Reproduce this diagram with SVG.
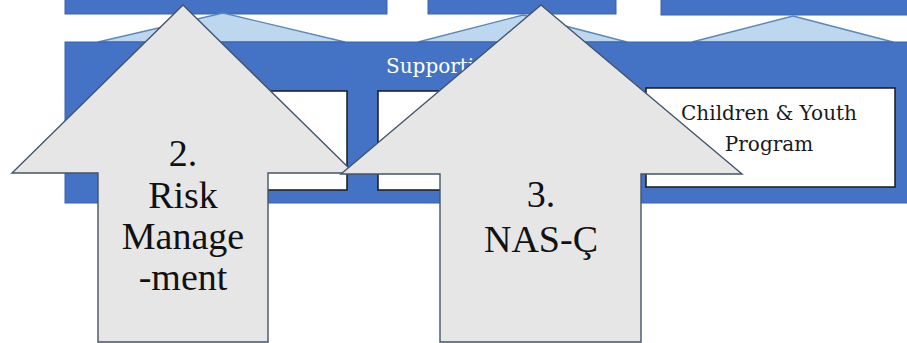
<svg xmlns="http://www.w3.org/2000/svg" width="907" height="343" viewBox="0 0 907 343">
<style>
.bar{fill:#4472C4;stroke:#3A63AD;stroke-width:1}
.tri{fill:#BDD7EE;stroke:#5B88B9;stroke-width:1.3}
.box{fill:#FFFFFF;stroke:#1A1A1A;stroke-width:1.5}
.arrow{fill:#E6E6E6;stroke:#44546A;stroke-width:1.4;stroke-linejoin:miter}
.lbl{font-family:"DejaVu Serif","Liberation Serif",serif;font-size:20px;text-anchor:middle;fill:#1A1A1A}
.sup{font-family:"DejaVu Serif","Liberation Serif",serif;font-size:20px;fill:#FFFFFF}
.big{font-family:"Liberation Serif",serif;font-size:38px;text-anchor:middle;fill:#111111}
</style>
<rect width="907" height="343" fill="#FFFFFF"/>
<g id="top-bars">
<rect class="bar" x="65" y="-2" width="322" height="16"/>
<rect class="bar" x="428" y="-2" width="188" height="16"/>
<rect class="bar" x="661" y="-2" width="250" height="17"/>
</g>
<g id="connectors">
<polygon class="tri" points="223,13 345,42 98,42"/>
<polygon class="tri" points="523,15 627,42 418,42"/>
<polygon class="tri" points="793,16 893,42 692,42"/>
</g>
<g id="supporting">
<rect class="bar" x="65" y="42" width="846" height="161"/>
<text class="sup" x="386" y="73">Supporting</text>
</g>
<g id="box1"><rect class="box" x="99" y="91" width="248" height="99"/></g>
<g id="box2"><rect class="box" x="378" y="91" width="248" height="99"/></g>
<g id="box3">
<rect class="box" x="646" y="88" width="249" height="99"/>
<text class="lbl" x="769" y="120">Children &amp; Youth</text>
<text class="lbl" x="769" y="151">Program</text>
</g>
<g id="arrow2">
<polygon class="arrow" points="183,5 354,173 268,173 268,342 98,342 98,173 12,173"/>
<text class="big" x="183" y="166">2.</text>
<text class="big" x="183" y="208">Risk</text>
<text class="big" x="183" y="249">Manage</text>
<text class="big" x="183" y="290">-ment</text>
</g>
<g id="arrow3">
<polygon class="arrow" points="541,5 742,174 641,174 641,342 440,342 440,174 341,174"/>
<text class="big" x="541" y="207">3.</text>
<text class="big" x="541" y="252">NAS-Ç</text>
</g>
</svg>
